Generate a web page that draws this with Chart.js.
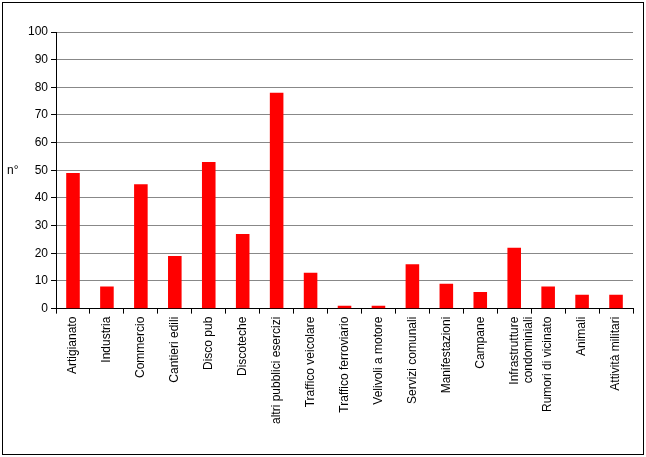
<!DOCTYPE html>
<html>
<head>
<meta charset="utf-8">
<script src="https://cdn.jsdelivr.net/npm/chart.js@4"></script>
<style>
  body { margin: 0; background: #fff; }
  #wrap { position: absolute; left: 2px; top: 2px; width: 640px; height: 451px; border: 1px solid #000; }
</style>
</head>
<body>
<div id="wrap"><canvas id="chart" width="640" height="451"></canvas></div>
<script>
var categories = ['Artigianato', 'Industria', 'Commercio', 'Cantieri edili', 'Disco pub', 'Discoteche',
    'altri pubblici esercizi', 'Traffico veicolare', 'Traffico ferroviario', 'Velivoli a motore',
    'Servizi comunali', 'Manifestazioni', 'Campane', ['Infrastrutture', 'condominiali'],
    'Rumori di vicinato', 'Animali', 'Attività militari'];
var values = [49, 8, 45, 19, 53, 27, 78, 13, 1, 1, 16, 9, 6, 22, 8, 5, 5];
var yTitle = 'n°';

var titlePlugin = {
    id: 'ytitle',
    afterDraw: function (chart) {
        var ctx = chart.ctx;
        ctx.save();
        ctx.font = '12px "Liberation Sans", Arial';
        ctx.fillStyle = '#000';
        ctx.textBaseline = 'middle';
        ctx.fillText(yTitle, 4, 168);
        ctx.restore();
    }
};

new Chart(document.getElementById('chart'), {
    type: 'bar',
    data: {
        labels: categories,
        datasets: [{
            data: values,
            backgroundColor: '#ff0000',
            borderWidth: 0,
            barPercentage: 0.4,
            categoryPercentage: 1
        }]
    },
    options: {
        responsive: false,
        animation: false,
        layout: { padding: { left: 22, top: 29, right: 10, bottom: 27 } },
        plugins: { legend: { display: false }, tooltip: { enabled: false } },
        scales: {
            y: {
                min: 0,
                max: 100,
                ticks: { stepSize: 10, color: '#000', font: { family: '"Liberation Sans", Arial', size: 12 } },
                grid: { color: '#888', tickLength: 5, tickColor: '#000' },
                border: { color: '#000' }
            },
            x: {
                ticks: { color: '#000', maxRotation: 90, minRotation: 90, font: { family: '"Liberation Sans", Arial', size: 12 } },
                grid: { drawOnChartArea: false, offset: true, tickLength: 5, color: '#000' },
                border: { color: '#000' }
            }
        }
    },
    plugins: [titlePlugin]
});
</script>
</body>
</html>
